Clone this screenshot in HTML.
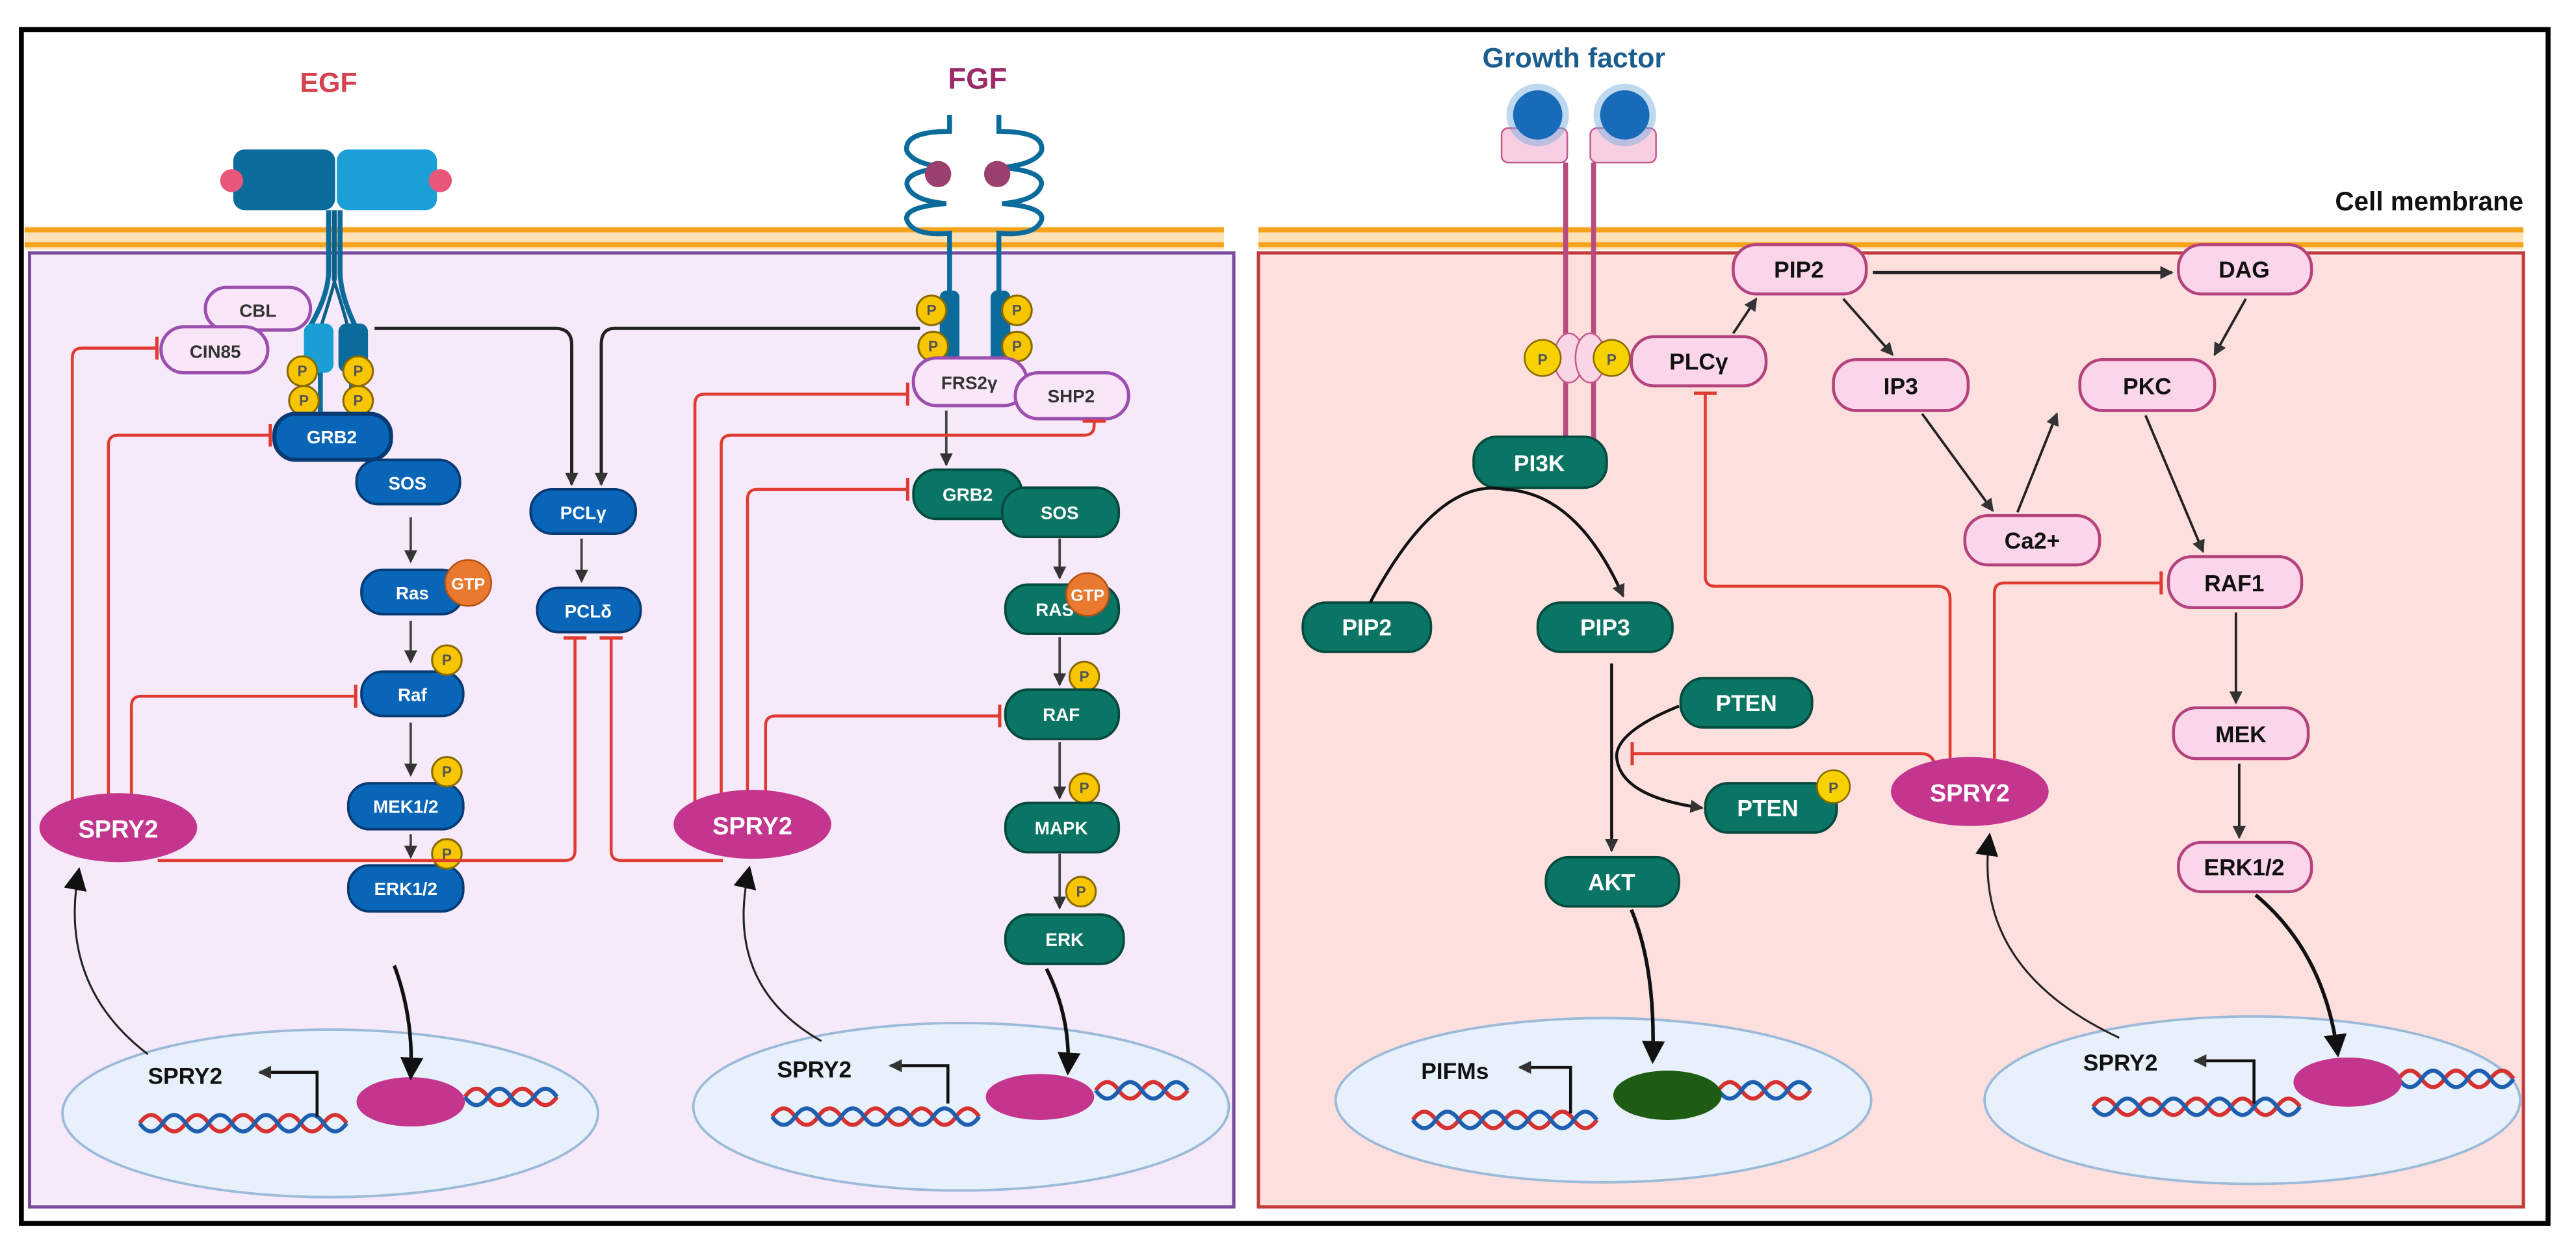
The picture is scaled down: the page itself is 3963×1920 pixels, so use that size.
<!DOCTYPE html>
<html><head><meta charset="utf-8"><style>
html,body{margin:0;padding:0;background:#fff}
svg{display:block}
text{font-family:"Liberation Sans",Arial,sans-serif;font-weight:bold}
</style></head><body>
<svg width="3963" height="1920" viewBox="0 0 1568 760" preserveAspectRatio="none" xmlns="http://www.w3.org/2000/svg">
<defs>
<marker id="ab" markerWidth="8" markerHeight="8" refX="7" refY="4" orient="auto" markerUnits="userSpaceOnUse"><path d="M0,0 L8,4 L0,8 z" fill="#333"/></marker>
<marker id="abk" markerWidth="14" markerHeight="14" refX="12" refY="7" orient="auto" markerUnits="userSpaceOnUse"><path d="M0,0 L14,7 L0,14 z" fill="#111"/></marker>
<marker id="tb" markerWidth="4" markerHeight="14" refX="2" refY="7" orient="auto" markerUnits="userSpaceOnUse"><rect x="0.5" y="0" width="2" height="14" fill="#e03b30"/></marker>
</defs>
<rect x="0" y="0" width="1568" height="760" fill="#fff"/>
<rect x="13" y="18" width="1538" height="727" fill="none" stroke="#000" stroke-width="3"/>

<!-- membrane -->
<rect x="15" y="138" width="730" height="14" fill="#fde2b8"/>
<line x1="15" y1="140" x2="745" y2="140" stroke="#f6a31c" stroke-width="3"/>
<line x1="15" y1="149" x2="745" y2="149" stroke="#f6a31c" stroke-width="3"/>
<rect x="766" y="138" width="770" height="14" fill="#fde2b8"/>
<line x1="766" y1="140" x2="1536" y2="140" stroke="#f6a31c" stroke-width="3"/>
<line x1="766" y1="149" x2="1536" y2="149" stroke="#f6a31c" stroke-width="3"/>

<!-- boxes -->
<rect x="18" y="154" width="733" height="581" fill="#f6e9fa" stroke="#7a4a9c" stroke-width="2"/>
<rect x="766" y="154" width="770" height="581" fill="#fde0de" stroke="#c23b3b" stroke-width="2"/>

<!-- labels -->
<text x="200" y="56" font-size="17" fill="#d6434f" text-anchor="middle">EGF</text>
<text x="595" y="54" font-size="18" fill="#9b2a66" text-anchor="middle">FGF</text>
<text x="958" y="41" font-size="17" fill="#1c5d8e" text-anchor="middle">Growth factor</text>
<text x="1536" y="128" font-size="16" fill="#111" text-anchor="end">Cell membrane</text>

<!-- EGF receptor -->
<rect x="142" y="91" width="62" height="37" rx="7" fill="#0b6c9c"/>
<rect x="205" y="91" width="61" height="37" rx="7" fill="#1aa0d6"/>
<circle cx="141" cy="110" r="7" fill="#e8577a"/>
<circle cx="268" cy="110" r="7" fill="#e8577a"/>
<path d="M200,128 L200,165 Q200,180 188,200 M207,128 L207,165 Q207,180 217,200" stroke="#0b6c9c" stroke-width="3" fill="none"/>
<path d="M204,128 L204,170 Q200,185 195,200 M203,128 L203,170 Q208,185 212,200" stroke="#0e5f86" stroke-width="2" fill="none"/>
<rect x="185" y="197" width="18" height="30" rx="5" fill="#1a9fd4"/>
<rect x="206" y="197" width="18" height="30" rx="5" fill="#0b6c9c"/>
<line x1="195" y1="227" x2="195" y2="253" stroke="#0b6c9c" stroke-width="3"/>
<line x1="214" y1="227" x2="214" y2="253" stroke="#0b6c9c" stroke-width="3"/>
<g fill="#f7c600" stroke="#8a6a00" stroke-width="1.2">
<circle cx="184" cy="226" r="9"/><circle cx="218" cy="226" r="9"/>
<circle cx="185" cy="244" r="9"/><circle cx="218" cy="244" r="9"/>
</g>
<g font-size="9" fill="#555" text-anchor="middle" font-weight="normal">
<text x="184" y="229">P</text><text x="218" y="229">P</text><text x="185" y="247">P</text><text x="218" y="247">P</text>
</g>
<rect x="125" y="175" width="64" height="26" rx="13" fill="#f9e6f9" stroke="#9b4fae" stroke-width="2"/>
<text x="157" y="193" font-size="11" fill="#333" text-anchor="middle" font-weight="normal">CBL</text>
<rect x="98" y="199" width="65" height="28" rx="14" fill="#f9e6f9" stroke="#9b4fae" stroke-width="2"/>
<text x="131" y="218" font-size="11" fill="#333" text-anchor="middle" font-weight="normal">CIN85</text>

<!-- blue chain -->
<g fill="#0865b8" stroke="#083a74" stroke-width="1.5">
<rect x="167" y="252" width="71" height="28" rx="13" stroke-width="2.5"/>
<rect x="217" y="280" width="63" height="27" rx="13"/>
<rect x="220" y="347" width="62" height="27" rx="13"/>
<rect x="220" y="409" width="62" height="27" rx="13"/>
<rect x="212" y="477" width="70" height="28" rx="13"/>
<rect x="212" y="527" width="70" height="28" rx="13"/>
<rect x="323" y="298" width="64" height="27" rx="13"/>
<rect x="327" y="358" width="63" height="27" rx="13"/>
</g>
<g font-size="11" fill="#fff" text-anchor="middle" font-weight="normal">
<text x="202" y="270">GRB2</text><text x="248" y="298">SOS</text><text x="251" y="365">Ras</text>
<text x="251" y="427">Raf</text><text x="247" y="495">MEK1/2</text><text x="247" y="545">ERK1/2</text>
<text x="355" y="316">PCLγ</text><text x="358" y="376">PCLδ</text>
</g>
<circle cx="285" cy="355" r="14" fill="#e8792e" stroke="#b55212"/>
<text x="285" y="359" font-size="10" fill="#fff" text-anchor="middle" font-weight="normal">GTP</text>
<g fill="#f7c600" stroke="#8a6a00" stroke-width="1.2">
<circle cx="272" cy="402" r="9"/><circle cx="272" cy="470" r="9"/><circle cx="272" cy="520" r="9"/>
<circle cx="660" cy="412" r="9"/><circle cx="660" cy="480" r="9"/><circle cx="658" cy="543" r="9"/>
</g>
<g font-size="9" fill="#555" text-anchor="middle" font-weight="normal">
<text x="272" y="405">P</text><text x="272" y="473">P</text><text x="272" y="523">P</text>
<text x="660" y="415">P</text><text x="660" y="483">P</text><text x="658" y="546">P</text>
</g>
<g stroke="#444" stroke-width="1.5" fill="none" marker-end="url(#ab)">
<line x1="250" y1="315" x2="250" y2="342"/>
<line x1="250" y1="378" x2="250" y2="403"/>
<line x1="250" y1="440" x2="250" y2="472"/>
<line x1="250" y1="508" x2="250" y2="522"/>
<line x1="354" y1="328" x2="354" y2="354"/>
<line x1="576" y1="250" x2="576" y2="283"/>
<line x1="645" y1="328" x2="645" y2="352"/>
<line x1="645" y1="388" x2="645" y2="417"/>
<line x1="645" y1="452" x2="645" y2="486"/>
<line x1="645" y1="520" x2="645" y2="553"/>
</g>
<g stroke="#222" stroke-width="2" fill="none" marker-end="url(#ab)">
<path d="M228,200 L338,200 Q348,200 348,210 L348,295"/>
<path d="M560,200 L374,200 Q366,200 366,210 L366,295"/>
</g>

<!-- FGF receptor -->
<g stroke="#0b6c9c" stroke-width="3" fill="none">
<path d="M578,70 L578,80 Q550,80 552,92 Q556,100 576,102 Q552,104 552,112 Q554,122 576,124 Q550,126 552,134 Q556,144 578,142 L578,195"/>
<path d="M608,70 L608,80 Q636,80 634,92 Q630,100 610,102 Q634,104 634,112 Q632,122 610,124 Q636,126 634,134 Q630,144 608,142 L608,195"/>
</g>
<circle cx="571" cy="106" r="8" fill="#9a3f6e"/><circle cx="607" cy="106" r="8" fill="#9a3f6e"/>
<rect x="572" y="177" width="12" height="45" rx="4" fill="#0b6c9c"/>
<rect x="603" y="177" width="12" height="45" rx="4" fill="#0b6c9c"/>
<g fill="#f7c600" stroke="#8a6a00" stroke-width="1.2">
<circle cx="567" cy="189" r="9"/><circle cx="619" cy="189" r="9"/><circle cx="568" cy="211" r="9"/><circle cx="619" cy="211" r="9"/>
</g>
<g font-size="9" fill="#555" text-anchor="middle" font-weight="normal">
<text x="567" y="192">P</text><text x="619" y="192">P</text><text x="568" y="214">P</text><text x="619" y="214">P</text>
</g>
<rect x="556" y="218" width="69" height="29" rx="14" fill="#f9e6f9" stroke="#9b4fae" stroke-width="2"/>
<text x="590" y="237" font-size="11" fill="#333" text-anchor="middle" font-weight="normal">FRS2γ</text>
<rect x="618" y="227" width="69" height="28" rx="14" fill="#f9e6f9" stroke="#9b4fae" stroke-width="2"/>
<text x="652" y="245" font-size="11" fill="#333" text-anchor="middle" font-weight="normal">SHP2</text>
<g fill="#0b7565" stroke="#064a3f" stroke-width="1.5">
<rect x="556" y="286" width="66" height="30" rx="14"/>
<rect x="610" y="297" width="71" height="30" rx="14"/>
<rect x="612" y="356" width="69" height="30" rx="14"/>
<rect x="612" y="420" width="69" height="30" rx="14"/>
<rect x="612" y="489" width="69" height="30" rx="14"/>
<rect x="612" y="557" width="72" height="30" rx="14"/>
</g>
<g font-size="11" fill="#fff" text-anchor="middle" font-weight="normal">
<text x="589" y="305">GRB2</text><text x="645" y="316">SOS</text><text x="642" y="375">RAS</text>
<text x="646" y="439">RAF</text><text x="646" y="508">MAPK</text><text x="648" y="576">ERK</text>
</g>
<circle cx="662" cy="362" r="13" fill="#e8792e" stroke="#b55212"/>
<text x="662" y="366" font-size="10" fill="#fff" text-anchor="middle" font-weight="normal">GTP</text>

<!-- red inhibitors left -->
<g stroke="#e03b30" stroke-width="1.8" fill="none" marker-end="url(#tb)">
<path d="M44,492 L44,218 Q44,212 50,212 L96,212"/>
<path d="M66,486 L66,271 Q66,265 72,265 L165,265"/>
<path d="M80,486 L80,430 Q80,424 86,424 L217,424"/>
<path d="M96,524 L344,524 Q350,524 350,518 L350,388"/>
<path d="M423,492 L423,246 Q423,240 429,240 L553,240"/>
<path d="M439,484 L439,271 Q439,265 445,265 L660,265 Q666,265 666,259 L666,256"/>
<path d="M455,482 L455,304 Q455,298 461,298 L553,298"/>
<path d="M466,482 L466,442 Q466,436 472,436 L609,436"/>
<path d="M440,524 L378,524 Q372,524 372,518 L372,388"/>
</g>
<ellipse cx="72" cy="504" rx="48" ry="21" fill="#c4358e"/>
<text x="72" y="510" font-size="15" fill="#fff" text-anchor="middle">SPRY2</text>
<ellipse cx="458" cy="502" rx="48" ry="21" fill="#c4358e"/>
<text x="458" y="508" font-size="15" fill="#fff" text-anchor="middle">SPRY2</text>

<!-- nuclei -->
<ellipse cx="201" cy="678" rx="163" ry="51" fill="#e8f1fb" stroke="#9bbad9" stroke-width="1.5"/>
<ellipse cx="585" cy="674" rx="163" ry="51" fill="#e8f1fb" stroke="#9bbad9" stroke-width="1.5"/>
<ellipse cx="976" cy="670" rx="163" ry="50" fill="#e8f1fb" stroke="#9bbad9" stroke-width="1.5"/>
<ellipse cx="1371" cy="670" rx="163" ry="51" fill="#e8f1fb" stroke="#9bbad9" stroke-width="1.5"/>
<g fill="none" stroke-width="2.5">
<path d="M85,684 q7,-10 14,0 t14,0 t14,0 t14,0 t14,0 t14,0 t14,0 t14,0 t14,0" stroke="#d63232"/>
<path d="M85,684 q7,10 14,0 t14,0 t14,0 t14,0 t14,0 t14,0 t14,0 t14,0 t14,0" stroke="#1f5fb0"/>
<path d="M283,668 q7,-10 14,0 t14,0 t14,0 t14,0" stroke="#d63232"/>
<path d="M283,668 q7,10 14,0 t14,0 t14,0 t14,0" stroke="#1f5fb0"/>
<path d="M470,680 q7,-10 14,0 t14,0 t14,0 t14,0 t14,0 t14,0 t14,0 t14,0 t14,0" stroke="#d63232"/>
<path d="M470,680 q7,10 14,0 t14,0 t14,0 t14,0 t14,0 t14,0 t14,0 t14,0 t14,0" stroke="#1f5fb0"/>
<path d="M667,664 q7,-10 14,0 t14,0 t14,0 t14,0" stroke="#d63232"/>
<path d="M667,664 q7,10 14,0 t14,0 t14,0 t14,0" stroke="#1f5fb0"/>
<path d="M860,682 q7,-10 14,0 t14,0 t14,0 t14,0 t14,0 t14,0 t14,0 t14,0" stroke="#d63232"/>
<path d="M860,682 q7,10 14,0 t14,0 t14,0 t14,0 t14,0 t14,0 t14,0 t14,0" stroke="#1f5fb0"/>
<path d="M1046,664 q7,-10 14,0 t14,0 t14,0 t14,0" stroke="#d63232"/>
<path d="M1046,664 q7,10 14,0 t14,0 t14,0 t14,0" stroke="#1f5fb0"/>
<path d="M1274,674 q7,-10 14,0 t14,0 t14,0 t14,0 t14,0 t14,0 t14,0 t14,0 t14,0" stroke="#d63232"/>
<path d="M1274,674 q7,10 14,0 t14,0 t14,0 t14,0 t14,0 t14,0 t14,0 t14,0 t14,0" stroke="#1f5fb0"/>
<path d="M1460,657 q7,-10 14,0 t14,0 t14,0 t14,0 t14,0" stroke="#d63232"/>
<path d="M1460,657 q7,10 14,0 t14,0 t14,0 t14,0 t14,0" stroke="#1f5fb0"/>
</g>
<ellipse cx="250" cy="671" rx="33" ry="15" fill="#c4358e"/>
<ellipse cx="633" cy="668" rx="33" ry="14" fill="#c4358e"/>
<ellipse cx="1015" cy="667" rx="33" ry="15" fill="#1d5c12"/>
<ellipse cx="1429" cy="659" rx="33" ry="15" fill="#c4358e"/>
<g font-size="14" fill="#111">
<text x="90" y="660">SPRY2</text><text x="473" y="656">SPRY2</text><text x="865" y="657">PIFMs</text><text x="1268" y="652">SPRY2</text>
</g>
<g stroke="#111" stroke-width="1.8" fill="none" marker-end="url(#ab)">
<path d="M193,680 L193,653 L158,653"/>
<path d="M577,672 L577,649 L542,649"/>
<path d="M956,678 L956,650 L925,650"/>
<path d="M1372,672 L1372,646 L1336,646"/>
</g>
<g stroke="#222" stroke-width="1.2" fill="none" marker-end="url(#abk)">
<path d="M90,642 Q35,600 48,530"/>
<path d="M500,634 Q440,600 456,529"/>
<path d="M1290,632 Q1200,590 1211,509"/>
</g>
<g stroke="#111" stroke-width="2.2" fill="none" marker-end="url(#abk)">
<path d="M240,588 Q252,620 250,656"/>
<path d="M637,590 Q652,620 650,653"/>
<path d="M993,554 Q1008,590 1006,646"/>
<path d="M1373,545 Q1415,580 1423,642"/>
</g>

<!-- right panel receptor -->
<rect x="914" y="78" width="40" height="21" rx="4" fill="#f8cfe2" stroke="#c55a8e"/>
<rect x="968" y="78" width="40" height="21" rx="4" fill="#f8cfe2" stroke="#c55a8e"/>
<circle cx="936" cy="70" r="19" fill="#6fa9dd" opacity="0.45"/><circle cx="989" cy="70" r="19" fill="#6fa9dd" opacity="0.45"/>
<circle cx="936" cy="70" r="15" fill="#176bb8"/><circle cx="989" cy="70" r="15" fill="#176bb8"/>
<line x1="953" y1="99" x2="953" y2="268" stroke="#b84c80" stroke-width="3"/>
<line x1="970" y1="99" x2="970" y2="268" stroke="#b84c80" stroke-width="3"/>
<ellipse cx="955" cy="218" rx="9" ry="15" fill="#f8d6e6" stroke="#c55a8e"/>
<ellipse cx="968" cy="218" rx="9" ry="15" fill="#f8d6e6" stroke="#c55a8e"/>
<circle cx="939" cy="218" r="11" fill="#f7d200" stroke="#8a6a00"/><circle cx="981" cy="218" r="11" fill="#f7d200" stroke="#8a6a00"/>
<text x="939" y="222" font-size="9" fill="#555" text-anchor="middle" font-weight="normal">P</text>
<text x="981" y="222" font-size="9" fill="#555" text-anchor="middle" font-weight="normal">P</text>

<g fill="#fbd6ea" stroke="#b4427d" stroke-width="1.8">
<rect x="993" y="205" width="82" height="30" rx="14"/>
<rect x="1055" y="149" width="81" height="30" rx="14"/>
<rect x="1326" y="149" width="81" height="30" rx="14"/>
<rect x="1116" y="219" width="82" height="31" rx="14"/>
<rect x="1266" y="219" width="82" height="31" rx="14"/>
<rect x="1196" y="314" width="82" height="30" rx="14"/>
<rect x="1320" y="339" width="81" height="31" rx="14"/>
<rect x="1323" y="431" width="82" height="31" rx="14"/>
<rect x="1326" y="513" width="81" height="30" rx="14"/>
</g>
<g font-size="14" fill="#111" text-anchor="middle">
<text x="1034" y="225">PLCγ</text><text x="1095" y="169">PIP2</text><text x="1366" y="169">DAG</text>
<text x="1157" y="240">IP3</text><text x="1307" y="240">PKC</text><text x="1237" y="334">Ca2+</text>
<text x="1360" y="360">RAF1</text><text x="1364" y="452">MEK</text><text x="1366" y="533">ERK1/2</text>
</g>
<g stroke="#222" stroke-width="1.5" fill="none" marker-end="url(#ab)">
<line x1="1140" y1="166" x2="1322" y2="166" stroke-width="2"/>
<line x1="1055" y1="203" x2="1069" y2="182"/>
<line x1="1122" y1="182" x2="1152" y2="216"/>
<line x1="1367" y1="182" x2="1348" y2="216"/>
<line x1="1170" y1="252" x2="1213" y2="311"/>
<line x1="1228" y1="312" x2="1252" y2="252"/>
<line x1="1306" y1="253" x2="1341" y2="336"/>
<line x1="1361" y1="373" x2="1361" y2="428"/>
<line x1="1363" y1="465" x2="1363" y2="510"/>
</g>

<g fill="#0b7565" stroke="#064a3f" stroke-width="1.5">
<rect x="897" y="266" width="81" height="31" rx="14"/>
<rect x="793" y="367" width="78" height="30" rx="14"/>
<rect x="936" y="367" width="82" height="30" rx="14"/>
<rect x="1023" y="413" width="80" height="30" rx="14"/>
<rect x="1038" y="477" width="80" height="30" rx="14"/>
<rect x="941" y="522" width="81" height="30" rx="14"/>
</g>
<circle cx="1116" cy="479" r="10" fill="#f7d200" stroke="#8a6a00"/>
<text x="1116" y="483" font-size="9" fill="#555" text-anchor="middle" font-weight="normal">P</text>
<g font-size="14" fill="#fff" text-anchor="middle">
<text x="937" y="287">PI3K</text><text x="832" y="387">PIP2</text><text x="977" y="387">PIP3</text>
<text x="1063" y="433">PTEN</text><text x="1076" y="497">PTEN</text><text x="981" y="542">AKT</text>
</g>
<g stroke="#111" stroke-width="1.8" fill="none">
<path d="M834,367 Q875,290 916,298" />
<path d="M916,298 Q960,300 988,363" marker-end="url(#ab)"/>
<line x1="981" y1="404" x2="981" y2="518" marker-end="url(#ab)"/>
<path d="M1022,430 Q985,445 984,460 Q985,485 1036,492" marker-end="url(#ab)"/>
</g>
<g stroke="#e03b30" stroke-width="1.8" fill="none" marker-end="url(#tb)">
<path d="M1187,462 L1187,365 Q1187,357 1179,357 L1044,357 Q1038,357 1038,351 L1038,239"/>
<path d="M1214,462 L1214,361 Q1214,355 1220,355 L1316,355"/>
<path d="M1178,466 Q1176,459 1170,459 L993,459"/>
</g>
<ellipse cx="1199" cy="482" rx="48" ry="21" fill="#c4358e"/>
<text x="1199" y="488" font-size="15" fill="#fff" text-anchor="middle">SPRY2</text>
</svg>
</body></html>
